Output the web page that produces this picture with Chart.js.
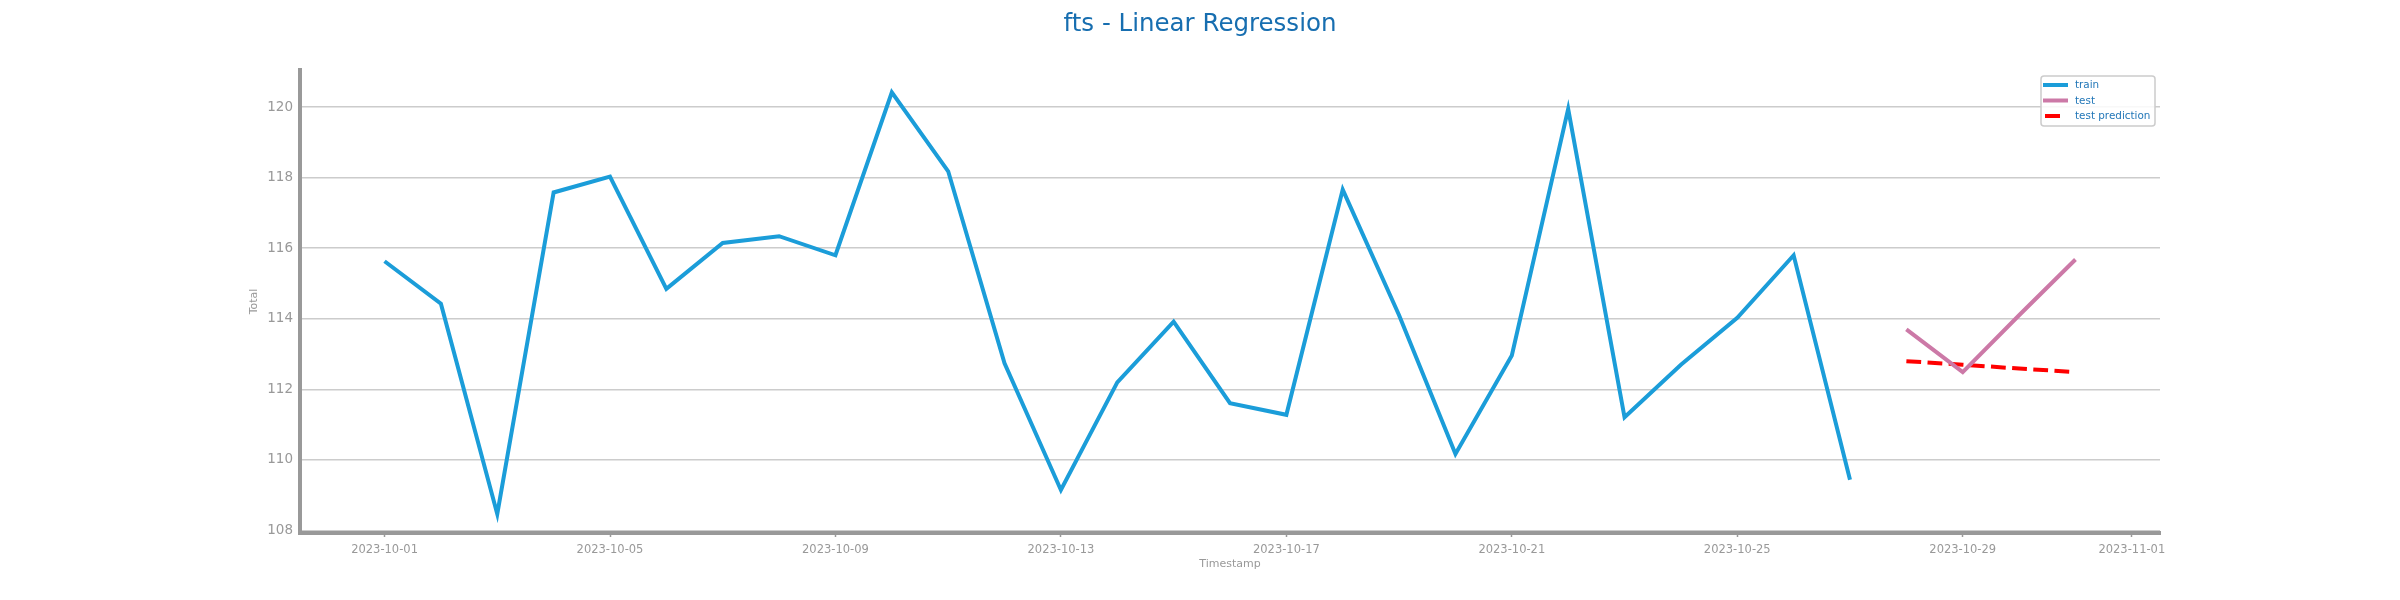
<!DOCTYPE html>
<html>
<head>
<meta charset="utf-8">
<script src="https://cdn.jsdelivr.net/npm/chart.js@4.4.1/dist/chart.umd.min.js"></script>
<style>
  body { margin: 0; background: #fff; }
  canvas { display: block; }
</style>
</head>
<body>
<canvas id="graph" width="2400" height="600"></canvas>
<script>
// data
const trainDates = ['2023-10-01','2023-10-02','2023-10-03','2023-10-04','2023-10-05','2023-10-06','2023-10-07',
  '2023-10-08','2023-10-09','2023-10-10','2023-10-11','2023-10-12','2023-10-13','2023-10-14','2023-10-15',
  '2023-10-16','2023-10-17','2023-10-18','2023-10-19','2023-10-20','2023-10-21','2023-10-22','2023-10-23',
  '2023-10-24','2023-10-25','2023-10-26','2023-10-27']
const trainValues = [115.63, 114.43, 108.47, 117.58, 118.03, 114.85, 116.15, 116.34, 115.80, 120.42, 118.18,
  112.74, 109.15, 112.20, 113.92, 111.61, 111.28, 117.66, 114.10, 110.17, 112.96, 119.95, 111.21, 112.70,
  114.03, 115.80, 109.44]

const testDates = ['2023-10-28','2023-10-29','2023-10-30','2023-10-31']
const testValues = [113.70, 112.49, 114.10, 115.68]
const predValues = [112.80, 112.70, 112.59, 112.49]

const xTickLabels = ['2023-10-01','2023-10-05','2023-10-09','2023-10-13','2023-10-17','2023-10-21',
  '2023-10-25','2023-10-29','2023-11-01']
const yTicks = [108, 110, 112, 114, 116, 118, 120]

const day0 = Date.parse('2023-10-01')
function dayOf(d){
  return (Date.parse(d) - day0) / 864e5
}
function pts(dates, vals){
  return dates.map((d, i) => ({x: dayOf(d), y: vals[i]}))
}

const grey = '#999999'
const font = 'DejaVu Sans'

//legend drawn inside the plot, top right
const boxLegend = {
  id: 'boxLegend',
  afterDraw(chart){
    const ctx = chart.ctx
    const area = chart.chartArea
    const w = 114, h = 50
    const x0 = area.right - 5 - w, y0 = area.top + 6
    ctx.save()
    ctx.fillStyle = 'rgba(255,255,255,0.85)'
    ctx.strokeStyle = '#cccccc'
    ctx.lineWidth = 1.5
    ctx.beginPath()
    ctx.roundRect(x0, y0, w, h, 3)
    ctx.fill()
    ctx.stroke()
    ctx.font = '10.4px "' + font + '"'
    ctx.textBaseline = 'middle'
    chart.data.datasets.forEach((ds, i) => {
      const y = y0 + 9 + i * 15.5
      ctx.strokeStyle = ds.borderColor
      ctx.lineWidth = ds.borderWidth
      ctx.beginPath()
      if (ds.borderDash) {
        // one dash only, like the reference
        ctx.moveTo(x0 + 4, y)
        ctx.lineTo(x0 + 19, y)
      } else {
        ctx.moveTo(x0 + 2, y)
        ctx.lineTo(x0 + 27, y)
      }
      ctx.stroke()
      ctx.fillStyle = '#2277b8'
      ctx.fillText(ds.label, x0 + 34, y + 0.5)
    })
    ctx.restore()
  }
}

const ctx = document.getElementById('graph').getContext('2d')
const chart = new Chart(ctx, {
  type: 'line',
  data: {
    datasets: [{
      label: 'train',
      data: pts(trainDates, trainValues),
      borderColor: '#1b9dd9',
      borderWidth: 4,
      pointRadius: 0,
    }, {
      label: 'test',
      data: pts(testDates, testValues),
      borderColor: '#cc79a7',
      borderWidth: 4,
      pointRadius: 0,
    }, {
      label: 'test prediction',
      data: pts(testDates, predValues),
      borderColor: '#ff0000',
      borderWidth: 4,
      borderDash: [14.8, 6.4],
      pointRadius: 0,
    }],
  },
  options: {
    responsive: false,
    animation: false,
    devicePixelRatio: 1,
    layout: { padding: { left: 240, right: 240, top: 0, bottom: 0 } },
    plugins: {
      legend: { display: false },
      tooltip: { enabled: false },
      title: {
        display: true,
        text: 'fts - Linear Regression',
        color: '#176eb0',
        font: { family: font, size: 24.5, weight: 'normal' },
        padding: { top: 10, bottom: 30.6 },
      },
    },
    scales: {
      x: {
        type: 'linear',
        min: -1.5,
        max: 31.5,
        afterBuildTicks: scale => {
          scale.ticks = xTickLabels.map(l => ({ value: dayOf(l) }))
        },
        afterFit: scale => { scale.height = 67 },
        ticks: {
          autoSkip: false,
          maxRotation: 0,
          color: grey,
          padding: 6,
          font: { family: font, size: 11.5 },
          callback: v => xTickLabels.find(l => dayOf(l) === v) || '',
        },
        grid: {
          drawOnChartArea: false,
          tickLength: 4,
          tickColor: grey,
          tickWidth: 1.5,
        },
        border: { width: 4, color: grey },
        title: {
          display: true,
          text: 'Timestamp',
          color: grey,
          font: { family: font, size: 11 },
          padding: { top: 0, bottom: 29 },
        },
      },
      y: {
        min: 107.93,
        max: 121.05,
        afterBuildTicks: scale => {
          scale.ticks = yTicks.map(v => ({ value: v }))
        },
        afterFit: scale => { scale.width = 60 },
        ticks: {
          color: grey,
          padding: 7,
          font: { family: font, size: 13.5 },
          callback: v => String(v),
        },
        grid: { color: '#cccccc', lineWidth: 1.5, drawTicks: false },
        border: { width: 4, color: grey },
        title: {
          display: true,
          text: 'Total',
          color: grey,
          font: { family: font, size: 11 },
          padding: { top: 8, bottom: 0 },
        },
      },
    },
  },
  plugins: [boxLegend],
})
</script>
</body>
</html>
